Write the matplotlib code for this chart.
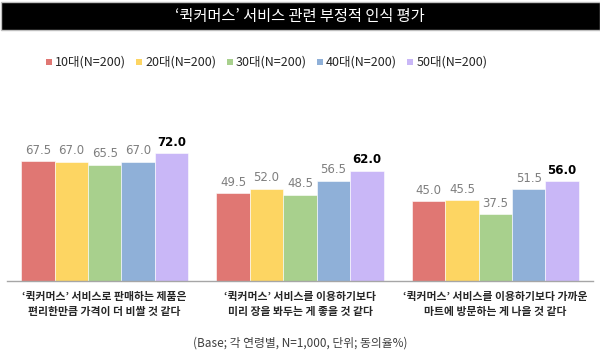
import numpy as np
import matplotlib
matplotlib.use("Agg")
import matplotlib.pyplot as plt
from matplotlib.patches import Rectangle

plt.rcParams['font.family'] = ['Noto Sans CJK KR', 'DejaVu Sans']

# data
categories = ["‘퀵커머스’ 서비스로 판매하는 제품은\n편리한만큼 가격이 더 비쌀 것 같다",
              "‘퀵커머스’ 서비스를 이용하기보다\n미리 장을 봐두는 게 좋을 것 같다",
              "‘퀵커머스’ 서비스를 이용하기보다 가까운\n마트에 방문하는 게 나을 것 같다"]
series = ["10대(N=200)", "20대(N=200)", "30대(N=200)", "40대(N=200)", "50대(N=200)"]
values = [
    [67.5, 49.5, 45.0],
    [67.0, 52.0, 45.5],
    [65.5, 48.5, 37.5],
    [67.0, 56.5, 51.5],
    [72.0, 62.0, 56.0],
]
colors = ["#E07773", "#FDD562", "#A8D08D", "#8FB0D8", "#C9B7F7"]

fig = plt.figure(figsize=(6, 3.63), dpi=100)
ax = fig.add_axes([7/600, 82/363, 586/600, 181/363])

x = np.arange(len(categories))
w = 0.171
for i, (name, vals) in enumerate(zip(series, values)):
    pos = x + (i - 2) * w
    ax.bar(pos, vals, width=w, color=colors[i], edgecolor='white', linewidth=0.4)
    last = i == len(series) - 1
    for px, v in zip(pos, vals):
        ax.text(px, v + 2.5, f"{v:.1f}", ha='center', va='bottom',
                fontsize=8.5, family='DejaVu Sans',
                color='black' if last else '#7f7f7f',
                fontweight='bold' if last else 'normal')

ax.set_xlim(-0.5, 2.5)
ax.set_ylim(0, 101.8)
for s in ['top', 'right', 'left']:
    ax.spines[s].set_visible(False)
ax.spines['bottom'].set_color('#a6a6a6')
ax.spines['bottom'].set_linewidth(1)
ax.set_yticks([])
ax.set_xticks(x)
ax.set_xticklabels(categories, fontsize=7.8, fontweight='bold', color='#262626',
                   linespacing=1.55)
ax.tick_params(axis='x', length=0, pad=8)

# title bar
fig.patches.append(Rectangle((0.5/600, 1 - 30/363), 599/600, 28/363,
                             transform=fig.transFigure, facecolor='black',
                             edgecolor='#bfbfbf', linewidth=1))
fig.text(0.5, 1 - 16/363, "‘퀵커머스’ 서비스 관련 부정적 인식 평가", ha='center',
         va='center', color='white', fontsize=11)

# legend
for i, name in enumerate(series):
    lx = 46 + i * 90.3
    fig.patches.append(Rectangle((lx/600, 1 - 65/363), 6/600, 6/363,
                                 transform=fig.transFigure, facecolor=colors[i],
                                 edgecolor='none'))
    fig.text((lx + 9)/600, 1 - 62/363, name, ha='left', va='center',
             fontsize=9, color='#262626')

fig.text(0.5, 1 - 343/363, "(Base; 각 연령별, N=1,000, 단위; 동의율%)",
         ha='center', va='center', fontsize=8.5, color='#404040')

fig.savefig("out.png", dpi=100)
